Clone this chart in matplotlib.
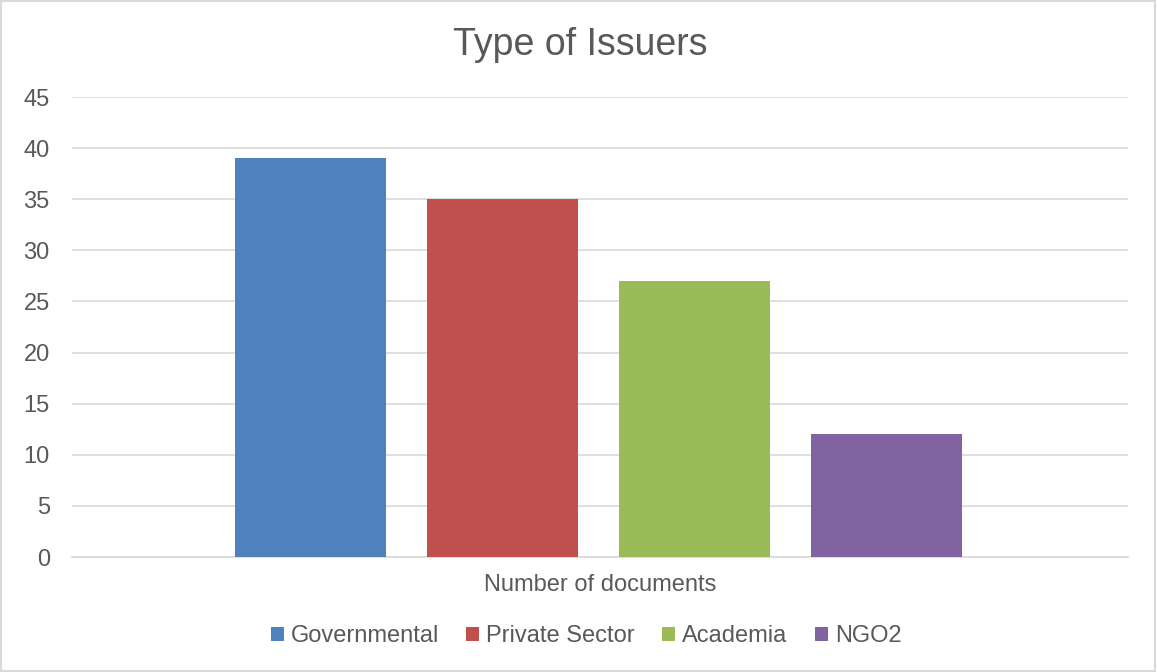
import numpy as np
import matplotlib.pyplot as plt
from matplotlib.patches import Rectangle

plt.rcParams['font.family'] = ['Liberation Sans', 'DejaVu Sans']

# data
categories = ['Governmental', 'Private Sector', 'Academia', 'NGO2']
values = [39, 35, 27, 12]
colors = ['#4f81bd', '#c0504d', '#9bbb59', '#8064a2']
group_label = 'Number of documents'

fig = plt.figure(figsize=(11.57, 6.72), dpi=100)
ax = fig.add_axes([72 / 1157, (672 - 557) / 672, (1128 - 72) / 1157, 460 / 672])

step = 192 / 1056
width = 151 / 1056
shift = -1.5 / 1056
for i, (name, v, c) in enumerate(zip(categories, values, colors)):
    ax.bar((i - 1.5) * step + shift, v, width=width, color=c, label=name, zorder=3)

ax.set_xlim(-0.5, 0.5)
ax.set_ylim(0, 45)
ax.set_yticks(np.arange(0, 46, 5))
ax.set_xticks([0])
ax.set_xticklabels([group_label])
ax.tick_params(axis='both', length=0, labelsize=17, colors='#595959')
ax.tick_params(axis='y', pad=16)
ax.tick_params(axis='x', pad=12)
ax.grid(axis='y', color='#d9d9d9', linewidth=1.2, zorder=0)
for s in ['top', 'right', 'left']:
    ax.spines[s].set_visible(False)
ax.spines['bottom'].set_color('#d9d9d9')
ax.spines['bottom'].set_linewidth(1.2)

fig.text(580 / 1157, 1 - 45 / 672, 'Type of Issuers', ha='center', va='center',
         fontsize=27, color='#595959')

leg = fig.legend(loc='center', bbox_to_anchor=(586 / 1157, 1 - 636 / 672), ncol=4,
                 frameon=False, fontsize=17, handlelength=0.55, handleheight=0.55,
                 handletextpad=0.3, columnspacing=1.15)
for t in leg.get_texts():
    t.set_color('#595959')

fig.patches.append(Rectangle((0.001, 0.001), 0.997, 0.997, transform=fig.transFigure,
                             fill=False, edgecolor='#d9d9d9', linewidth=1.5))

fig.savefig('out.png', dpi=100)
